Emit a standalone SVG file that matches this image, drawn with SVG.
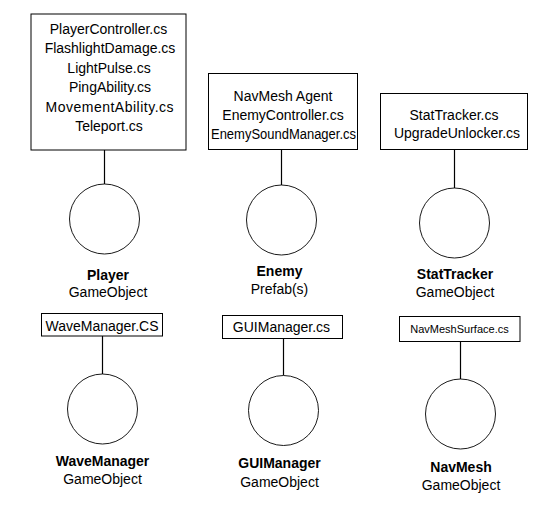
<svg xmlns="http://www.w3.org/2000/svg" width="542" height="511" viewBox="0 0 542 511">
<style>
  .bg { fill: #ffffff; }
  .box { fill: #ffffff; stroke: #000000; stroke-width: 1; }
  .obj { fill: #ffffff; stroke: #000000; stroke-width: 0.9; }
  .conn { stroke: #000000; stroke-width: 1.2; fill: none; }
  text { font-family: "Liberation Sans", Arial, sans-serif; font-size: 14px; fill: #000000; text-anchor: middle; }
  .b { font-weight: bold; }
  .sm { font-size: 11px; }
</style>
<rect class="bg" x="0" y="0" width="542" height="511"/>

<g id="connectors">
  <line class="conn" x1="104.5" y1="150" x2="104.5" y2="184"/>
  <line class="conn" x1="281.5" y1="150" x2="281.5" y2="185"/>
  <line class="conn" x1="454.5" y1="149" x2="454.5" y2="188"/>
  <line class="conn" x1="102.5" y1="336" x2="102.5" y2="374"/>
  <line class="conn" x1="283.5" y1="338.5" x2="283.5" y2="375.5"/>
  <line class="conn" x1="460.5" y1="341.5" x2="460.5" y2="379"/>
</g>

<g id="player">
  <rect class="box" x="31" y="14" width="155" height="136"/>
  <text x="108.5" y="33.5">PlayerController.cs</text>
  <text x="110" y="53">FlashlightDamage.cs</text>
  <text x="109" y="72.5">LightPulse.cs</text>
  <text x="110" y="92">PingAbility.cs</text>
  <text x="109.5" y="111.5" textLength="128">MovementAbility.cs</text>
  <text x="109" y="131">Teleport.cs</text>
  <circle class="obj" cx="104.5" cy="219" r="35"/>
  <text class="b" x="108" y="280">Player</text>
  <text x="108" y="297">GameObject</text>
</g>

<g id="enemy">
  <rect class="box" x="208.5" y="73.5" width="149" height="76"/>
  <text x="283" y="101">NavMesh Agent</text>
  <text x="283" y="120">EnemyController.cs</text>
  <text x="283.5" y="139" textLength="145" lengthAdjust="spacingAndGlyphs">EnemySoundManager.cs</text>
  <circle class="obj" cx="281.5" cy="220" r="35"/>
  <text class="b" x="279.5" y="276">Enemy</text>
  <text x="279.5" y="293.5">Prefab(s)</text>
</g>

<g id="stattracker">
  <rect class="box" x="380.5" y="93.5" width="147" height="56"/>
  <text x="454" y="119.5">StatTracker.cs</text>
  <text x="457" y="138">UpgradeUnlocker.cs</text>
  <circle class="obj" cx="454.5" cy="223" r="35"/>
  <text class="b" x="455" y="278.5">StatTracker</text>
  <text x="455" y="296.5">GameObject</text>
</g>

<g id="wavemanager">
  <rect class="box" x="41.5" y="313.5" width="121" height="22.5"/>
  <text x="102" y="330.5">WaveManager.CS</text>
  <circle class="obj" cx="102.5" cy="409" r="35"/>
  <text class="b" x="102.5" y="466">WaveManager</text>
  <text x="102.5" y="484">GameObject</text>
</g>

<g id="guimanager">
  <rect class="box" x="222.5" y="315.5" width="120" height="23"/>
  <text x="281.5" y="332">GUIManager.cs</text>
  <circle class="obj" cx="283.5" cy="410.5" r="35"/>
  <text class="b" x="279.5" y="468">GUIManager</text>
  <text x="279.5" y="486.5">GameObject</text>
</g>

<g id="navmesh">
  <rect class="box" x="399.5" y="316.5" width="120.5" height="25"/>
  <text class="sm" x="459.5" y="333">NavMeshSurface.cs</text>
  <circle class="obj" cx="460.5" cy="414" r="35"/>
  <text class="b" x="461" y="471.5">NavMesh</text>
  <text x="461" y="490">GameObject</text>
</g>
</svg>
